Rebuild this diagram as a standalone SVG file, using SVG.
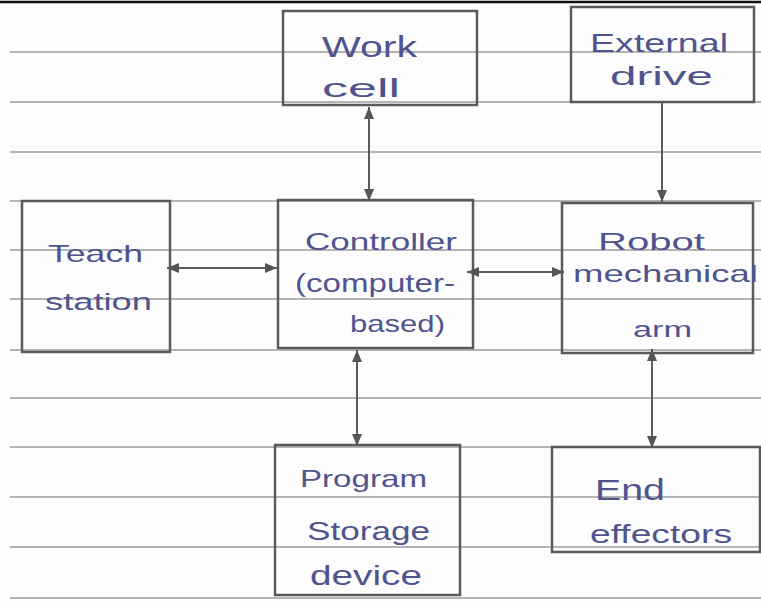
<svg xmlns="http://www.w3.org/2000/svg" width="761" height="607" viewBox="0 0 761 607">
  <style>
    .rule { stroke: #b4b4b4; stroke-width: 2; fill: none; }
    .box { stroke: #5a5a5a; stroke-width: 2.5; fill: none; }
    .conn { stroke: #5c5c5c; stroke-width: 2; fill: none; }
    .lbl { font-family: "Liberation Sans", "DejaVu Sans", sans-serif; fill: #50548e; }
  </style>
  <defs>
    <marker id="arrow" viewBox="0 0 12 10" refX="12" refY="5" markerWidth="12" markerHeight="10" markerUnits="userSpaceOnUse" orient="auto-start-reverse">
      <path d="M0,0 L12,5 L0,10 Z" fill="#555"/>
    </marker>
  </defs>

  <rect width="761" height="607" fill="#fdfdfd"/>

  <!-- ruled paper lines -->
  <g id="paper">
    <line x1="0" y1="2" x2="761" y2="2" stroke="#111" stroke-width="2.5"/>
    <line class="rule" x1="10" y1="52" x2="761" y2="52"/>
    <line class="rule" x1="10" y1="102" x2="761" y2="102"/>
    <line class="rule" x1="10" y1="152" x2="761" y2="152"/>
    <line class="rule" x1="10" y1="201" x2="761" y2="201"/>
    <line class="rule" x1="10" y1="250" x2="761" y2="250"/>
    <line class="rule" x1="10" y1="299" x2="761" y2="299"/>
    <line class="rule" x1="10" y1="350" x2="761" y2="350"/>
    <line class="rule" x1="10" y1="398" x2="761" y2="398"/>
    <line class="rule" x1="10" y1="447" x2="761" y2="447"/>
    <line class="rule" x1="10" y1="497" x2="761" y2="497"/>
    <line class="rule" x1="10" y1="547" x2="761" y2="547"/>
    <line class="rule" x1="10" y1="598" x2="761" y2="598"/>
  </g>

  <g id="work-cell">
    <rect class="box" x="283" y="11" width="194" height="94"/>
    <text class="lbl" x="322" y="57" font-size="30" textLength="95" lengthAdjust="spacingAndGlyphs">Work</text>
    <text class="lbl" x="322" y="97" font-size="26" textLength="78" lengthAdjust="spacingAndGlyphs">cell</text>
  </g>

  <g id="external-drive">
    <rect class="box" x="571" y="7" width="183" height="95"/>
    <text class="lbl" x="590" y="52" font-size="26" textLength="138" lengthAdjust="spacingAndGlyphs">External</text>
    <text class="lbl" x="610" y="85" font-size="26" textLength="103" lengthAdjust="spacingAndGlyphs">drive</text>
  </g>

  <g id="teach-station">
    <rect class="box" x="22" y="201" width="148" height="151"/>
    <text class="lbl" x="48" y="262" font-size="24" textLength="95" lengthAdjust="spacingAndGlyphs">Teach</text>
    <text class="lbl" x="45" y="310" font-size="24" textLength="107" lengthAdjust="spacingAndGlyphs">station</text>
  </g>

  <g id="controller">
    <rect class="box" x="278" y="200" width="195" height="148"/>
    <text class="lbl" x="305" y="250" font-size="24" textLength="152" lengthAdjust="spacingAndGlyphs">Controller</text>
    <text class="lbl" x="295" y="292" font-size="26" textLength="160" lengthAdjust="spacingAndGlyphs">(computer-</text>
    <text class="lbl" x="350" y="332" font-size="24" textLength="95" lengthAdjust="spacingAndGlyphs">based)</text>
  </g>

  <g id="robot-arm">
    <rect class="box" x="562" y="203" width="191" height="150"/>
    <text class="lbl" x="598" y="250" font-size="24" textLength="107" lengthAdjust="spacingAndGlyphs">Robot</text>
    <text class="lbl" x="573" y="282" font-size="24" textLength="185" lengthAdjust="spacingAndGlyphs">mechanical</text>
    <text class="lbl" x="633" y="337" font-size="22" textLength="59" lengthAdjust="spacingAndGlyphs">arm</text>
  </g>

  <g id="program-storage">
    <rect class="box" x="275" y="445" width="185" height="150"/>
    <text class="lbl" x="300" y="487" font-size="24" textLength="127" lengthAdjust="spacingAndGlyphs">Program</text>
    <text class="lbl" x="307" y="540" font-size="26" textLength="123" lengthAdjust="spacingAndGlyphs">Storage</text>
    <text class="lbl" x="310" y="585" font-size="28" textLength="112" lengthAdjust="spacingAndGlyphs">device</text>
  </g>

  <g id="end-effectors">
    <rect class="box" x="552" y="447" width="208" height="105"/>
    <text class="lbl" x="595" y="500" font-size="30" textLength="70" lengthAdjust="spacingAndGlyphs">End</text>
    <text class="lbl" x="590" y="543" font-size="26" textLength="142" lengthAdjust="spacingAndGlyphs">effectors</text>
  </g>

  <g id="connectors">
    <line class="conn" x1="369" y1="107" x2="369" y2="201" marker-start="url(#arrow)" marker-end="url(#arrow)"/>
    <line class="conn" x1="662" y1="102" x2="662" y2="202" marker-end="url(#arrow)"/>
    <line class="conn" x1="167" y1="268" x2="277" y2="268" marker-start="url(#arrow)" marker-end="url(#arrow)"/>
    <line class="conn" x1="467" y1="272" x2="564" y2="272" marker-start="url(#arrow)" marker-end="url(#arrow)"/>
    <line class="conn" x1="357" y1="350" x2="357" y2="446" marker-start="url(#arrow)" marker-end="url(#arrow)"/>
    <line class="conn" x1="652" y1="349" x2="652" y2="448" marker-start="url(#arrow)" marker-end="url(#arrow)"/>
  </g>
</svg>
